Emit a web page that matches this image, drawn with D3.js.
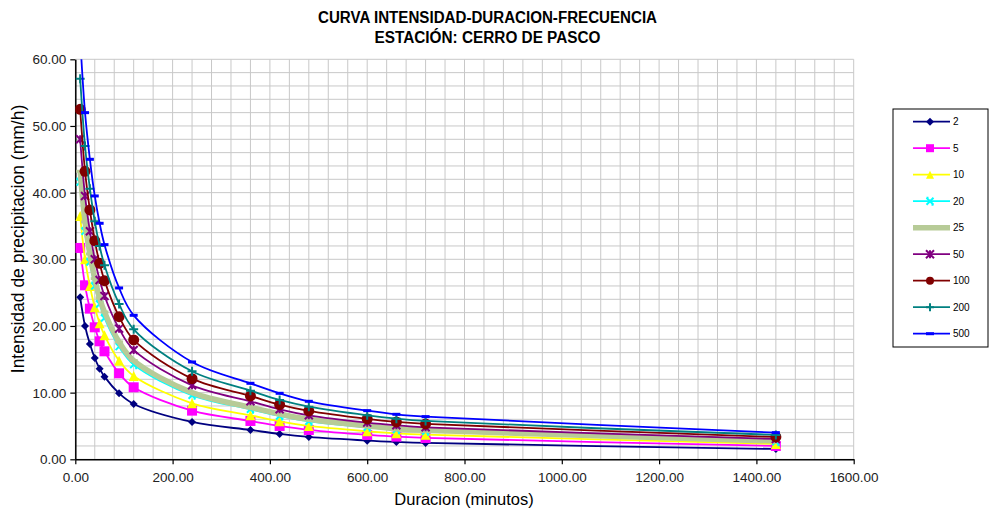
<!DOCTYPE html>
<html>
<head>
<meta charset="utf-8">
<script src="https://cdn.jsdelivr.net/npm/d3@7"></script>
<style>
  html, body { margin: 0; padding: 0; background: #fff; }
  svg { display: block; font-family: "Liberation Sans", Arial, sans-serif; }
</style>
</head>
<body>
<svg id="chart" width="989" height="514"></svg>
<script>
// Durations (minutes)
const durations = [10, 20, 30, 40, 50, 60, 90, 120, 240, 360, 420, 480, 600, 660, 720, 1440];

// Intensity (mm/h) per return period (years)
const t2   = [24.3, 20.0, 17.3, 15.2, 13.6, 12.4, 9.9, 8.3, 5.6, 4.4, 3.8, 3.35, 2.8, 2.6, 2.45, 1.55];
const t5   = [31.7, 26.1, 22.6, 19.8, 17.7, 16.2, 12.9, 10.8, 7.3, 5.75, 5.0, 4.4, 3.65, 3.4, 3.2, 2.0];
const t10  = [36.5, 30.0, 26.0, 22.8, 20.4, 18.6, 14.8, 12.5, 8.4, 6.6, 5.7, 5.0, 4.2, 3.9, 3.7, 2.3];
const t20  = [41.6, 34.2, 29.6, 26.0, 23.3, 21.2, 16.9, 14.2, 9.6, 7.5, 6.5, 5.7, 4.8, 4.45, 4.2, 2.65];
const t25  = [43.2, 35.6, 30.8, 27.1, 24.2, 22.1, 17.6, 14.8, 10.0, 7.8, 6.8, 6.0, 5.0, 4.6, 4.35, 2.75];
const t50  = [48.0, 39.5, 34.2, 30.0, 26.9, 24.5, 19.6, 16.4, 11.1, 8.7, 7.5, 6.6, 5.5, 5.1, 4.8, 3.05];
const t100 = [52.5, 43.2, 37.4, 32.8, 29.4, 26.8, 21.4, 17.9, 12.1, 9.5, 8.2, 7.25, 6.05, 5.6, 5.3, 3.35];
const t200 = [57.1, 47.0, 40.6, 35.7, 32.0, 29.1, 23.3, 19.5, 13.2, 10.3, 8.9, 7.9, 6.6, 6.1, 5.75, 3.65];
const t500 = [63.2, 52.0, 45.0, 39.5, 35.4, 32.2, 25.7, 21.6, 14.6, 11.4, 9.9, 8.7, 7.3, 6.75, 6.4, 4.0];

const seriesNames = ["2", "5", "10", "20", "25", "50", "100", "200", "500"];
const seriesValues = [t2, t5, t10, t20, t25, t50, t100, t200, t500];

const xTicks = [0, 200, 400, 600, 800, 1000, 1200, 1400, 1600];
const yTicks = [0, 10, 20, 30, 40, 50, 60];

const titleLines = ["CURVA INTENSIDAD-DURACION-FRECUENCIA", "ESTACIÓN: CERRO DE PASCO"];
const xTitle = "Duracion (minutos)";
const yTitle = "Intensidad de precipitacion (mm/h)";

// Series styling
const styles = [
  { color: "#000080", marker: "diamond", size: 8,  width: 1.8 },
  { color: "#FF00FF", marker: "square",  size: 10, width: 1.8 },
  { color: "#FFFF00", marker: "triangle",size: 10, width: 1.8 },
  { color: "#00FFFF", marker: "x",       size: 7,  width: 1.8 },
  { color: "#B7CB97", marker: "dash",    size: 8,  width: 5.5 },
  { color: "#800080", marker: "star",    size: 8,  width: 1.8 },
  { color: "#800000", marker: "circle",  size: 11, width: 1.8 },
  { color: "#008080", marker: "plus",    size: 9,  width: 1.8 },
  { color: "#0000FF", marker: "dash",    size: 8,  width: 1.8 }
];

const svg = d3.select("#chart");
const margin = { left: 75.3, top: 59.3, right: 853.7, bottom: 459.3 };

const x = d3.scaleLinear().domain([0, 1600]).range([margin.left, margin.right]);
const y = d3.scaleLinear().domain([0, 60]).range([margin.bottom, margin.top]);

// Title (condensed bold)
const titleWidths = [339, 226];
svg.append("g").selectAll("text").data(titleLines).join("text")
  .attr("x", 487.5).attr("y", (d, i) => 22.5 + i * 20)
  .attr("text-anchor", "middle")
  .attr("font-family", "'Liberation Sans Narrow', 'Arial Narrow', 'Liberation Sans', Arial, sans-serif")
  .attr("font-weight", "bold")
  .attr("font-size", 16)
  .attr("fill", "#000")
  .attr("textLength", (d, i) => titleWidths[i])
  .attr("lengthAdjust", "spacingAndGlyphs")
  .text(d => d);

// Grid (minor every 40 min / 2 mm/h)
const grid = svg.append("g");
grid.selectAll("line.gx").data(d3.range(0, 1600.1, 40)).join("line")
  .attr("x1", d => x(d)).attr("x2", d => x(d))
  .attr("y1", margin.top).attr("y2", margin.bottom)
  .attr("stroke", "#c8c8c8").attr("stroke-width", 1);
grid.selectAll("line.gy").data(d3.range(0, 60.1, 2)).join("line")
  .attr("y1", d => y(d)).attr("y2", d => y(d))
  .attr("x1", margin.left).attr("x2", margin.right)
  .attr("stroke", "#c8c8c8").attr("stroke-width", 1);

// Axes
const xAxis = d3.axisBottom(x).tickValues(xTicks).tickFormat(d3.format(".2f")).tickSize(5).tickSizeOuter(0);
const yAxis = d3.axisLeft(y).tickValues(yTicks).tickFormat(d3.format(".2f")).tickSize(5).tickSizeOuter(0);

const gx = svg.append("g").attr("transform", `translate(0,${margin.bottom})`).call(xAxis);
const gy = svg.append("g").attr("transform", `translate(${margin.left},0)`).call(yAxis);
[gx, gy].forEach(g => {
  g.select(".domain").attr("stroke", "#000").attr("stroke-width", 1.5);
  g.selectAll(".tick line").attr("stroke", "#000").attr("stroke-width", 1.2);
  g.selectAll(".tick text").attr("font-size", 13.5).attr("fill", "#222")
    .attr("font-family", "'Liberation Sans', Arial, sans-serif");
});
gx.selectAll(".tick text").attr("dy", "1.1em");
gy.selectAll(".tick text").attr("dx", "-1").attr("dy", "0.34em");

// Axis titles
svg.append("text").attr("x", 464).attr("y", 505)
  .attr("text-anchor", "middle").attr("font-size", 16.5).attr("fill", "#000")
  .text(xTitle);
svg.append("text")
  .attr("transform", `translate(24,239) rotate(-90)`)
  .attr("text-anchor", "middle").attr("font-size", 17.5).attr("fill", "#000")
  .text(yTitle);

// Clip region for plot
svg.append("clipPath").attr("id", "plotclip").append("rect")
  .attr("x", margin.left).attr("y", margin.top)
  .attr("width", margin.right - margin.left).attr("height", margin.bottom - margin.top);

function drawMarker(g, type, size, color) {
  const h = size / 2;
  switch (type) {
    case "diamond":
      g.append("path").attr("d", `M0,${-h}L${h},0L0,${h}L${-h},0Z`).attr("fill", color);
      break;
    case "square":
      g.append("rect").attr("x", -h).attr("y", -h).attr("width", size).attr("height", size).attr("fill", color);
      break;
    case "triangle":
      g.append("path").attr("d", `M0,${-h}L${h},${h}L${-h},${h}Z`).attr("fill", color);
      break;
    case "circle":
      g.append("circle").attr("r", h).attr("fill", color);
      break;
    case "x":
      g.append("path").attr("d", `M${-h},${-h}L${h},${h}M${-h},${h}L${h},${-h}M${-h},${-h}L${-h + 2},${-h}M${h},${h}L${h - 2},${h}`)
        .attr("stroke", color).attr("stroke-width", 2).attr("fill", "none");
      break;
    case "star":
      g.append("path").attr("d", `M${-h},${-h}L${h},${h}M${-h},${h}L${h},${-h}M0,${-h}L0,${h}`)
        .attr("stroke", color).attr("stroke-width", 2).attr("fill", "none");
      break;
    case "plus":
      g.append("path").attr("d", `M${-h},0L${h},0M0,${-h}L0,${h}`)
        .attr("stroke", color).attr("stroke-width", 2).attr("fill", "none");
      break;
    case "dash":
      g.append("rect").attr("x", -h).attr("y", -1.5).attr("width", size).attr("height", 3).attr("fill", color);
      break;
  }
}

const line = d3.line()
  .x(d => x(d[0])).y(d => y(d[1]))
  .curve(d3.curveCatmullRom.alpha(0.5));

const plot = svg.append("g").attr("clip-path", "url(#plotclip)");
seriesValues.forEach((vals, i) => {
  const st = styles[i];
  const pts = durations.map((d, j) => [d, vals[j]]);
  const g = plot.append("g");
  g.append("path").datum(pts).attr("d", line)
    .attr("fill", "none").attr("stroke", st.color).attr("stroke-width", st.width)
    .attr("stroke-linejoin", "round");
  g.selectAll("g.m").data(pts).join("g")
    .attr("transform", d => `translate(${x(d[0])},${y(d[1])})`)
    .each(function () { drawMarker(d3.select(this), st.marker, st.size, st.color); });
});

// Legend
const legend = svg.append("g");
legend.append("rect").attr("x", 893).attr("y", 109).attr("width", 95).attr("height", 238)
  .attr("fill", "#fff").attr("stroke", "#000").attr("stroke-width", 1);
seriesNames.forEach((name, i) => {
  const st = styles[i];
  const cy = 121.7 + i * 26.5;
  const gi = legend.append("g");
  gi.append("line").attr("x1", 913).attr("x2", 950).attr("y1", cy).attr("y2", cy)
    .attr("stroke", st.color).attr("stroke-width", st.width);
  const m = gi.append("g").attr("transform", `translate(930,${cy})`);
  drawMarker(m, st.marker, Math.min(st.size, 8), st.color);
  gi.append("text").attr("x", 953).attr("y", cy + 3.5).attr("font-size", 10).attr("fill", "#000").text(name);
});
</script>
</body>
</html>
